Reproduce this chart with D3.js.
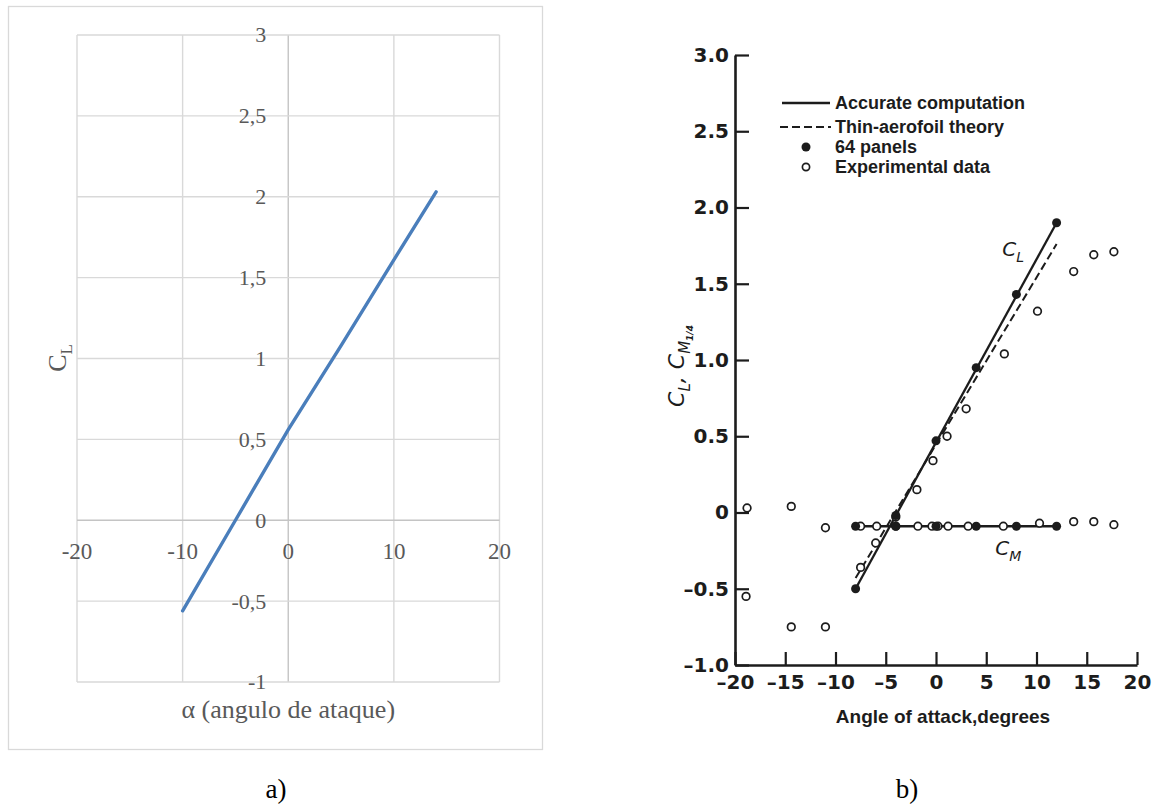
<!DOCTYPE html>
<html>
<head>
<meta charset="utf-8">
<script src="https://cdn.jsdelivr.net/npm/d3@7"></script>
<style>
  body { margin: 0; background: #fff; }
</style>
</head>
<body>
<div id="chart"></div>
<script>
// ---- a) CL vs alpha (excel style) ----
var alphaA = [-10, -5, 0, 5, 10, 14];
var clA = [-0.56, 0.0, 0.56, 1.08, 1.61, 2.03];
var xTicksA = [-20, -10, 0, 10, 20];
var xLabelsA = ['-20', '-10', '0', '10', '20'];
var yTicksA = [-1, -0.5, 0, 0.5, 1, 1.5, 2, 2.5, 3];
var yLabelsA = ['-1', '-0,5', '0', '0,5', '1', '1,5', '2', '2,5', '3'];

// ---- b) scanned figure ----
var accurateAlpha = [-8, 12];
var accurateCL = [-0.5, 1.9];
var thinAlpha = [-8, 12];
var thinCL = [-0.43, 1.76];
var cmAlpha = [-8, 12];
var cmValues = [-0.09, -0.09];
var panelAlpha = [-8, -4, 0, 4, 8, 12];
var panelCL = [-0.5, -0.02, 0.47, 0.95, 1.43, 1.9];
var panelCM = [-0.09, -0.09, -0.09, -0.09, -0.09, -0.09];
var expAlphaCL = [-18.9, -14.4, -11.0, -7.5, -6.0, -4.0, -1.9, -0.3, 1.1, 3.0, 6.8, 10.1, 13.7, 15.7, 17.7];
var expCL = [-0.55, -0.75, -0.75, -0.36, -0.20, -0.03, 0.15, 0.34, 0.50, 0.68, 1.04, 1.32, 1.58, 1.69, 1.71];
var expAlphaCM = [-18.8, -14.4, -11.0, -7.5, -5.9, -4.0, -1.8, -0.4, 0.2, 1.2, 3.2, 6.7, 10.3, 13.7, 15.7, 17.7];
var expCM = [0.03, 0.04, -0.10, -0.09, -0.09, -0.09, -0.09, -0.09, -0.09, -0.09, -0.09, -0.09, -0.07, -0.06, -0.06, -0.08];
var xTicksB = [-20, -15, -10, -5, 0, 5, 10, 15, 20];
var xLabelsB = ['–20', '–15', '–10', '–5', '0', '5', '10', '15', '20'];
var yTicksB = [-1, -0.5, 0, 0.5, 1, 1.5, 2, 2.5, 3];
var yLabelsB = ['–1.0', '–0.5', '0', '0.5', '1.0', '1.5', '2.0', '2.5', '3.0'];
var legendLabels = ['Accurate computation', 'Thin-aerofoil theory', '64 panels', 'Experimental data'];

var svg = d3.select('#chart').append('svg')
    .attr('width', 1157)
    .attr('height', 808);

// ================= a) =================
var gA = svg.append('g');
var serif = 'Liberation Serif, Times New Roman, serif';

gA.append('rect')
    .attr('x', 8.5).attr('y', 6.5)
    .attr('width', 534).attr('height', 743)
    .attr('fill', 'none')
    .attr('stroke', '#d9d9d9')
    .attr('stroke-width', 1.3);

var xA = d3.scaleLinear().domain([-20, 20]).range([77, 499.5]);
var yA = d3.scaleLinear().domain([-1, 3]).range([682, 35]);

// grid
gA.append('g').selectAll('line')
    .data(xTicksA)
    .enter().append('line')
    .attr('x1', function (d) { return xA(d); })
    .attr('x2', function (d) { return xA(d); })
    .attr('y1', yA(-1)).attr('y2', yA(3))
    .attr('stroke', function (d) { return d === 0 ? '#c4c4c4' : '#d9d9d9'; })
    .attr('stroke-width', 1.4);
gA.append('g').selectAll('line')
    .data(yTicksA)
    .enter().append('line')
    .attr('y1', function (d) { return yA(d); })
    .attr('y2', function (d) { return yA(d); })
    .attr('x1', xA(-20)).attr('x2', xA(20))
    .attr('stroke', function (d) { return d === 0 ? '#c4c4c4' : '#d9d9d9'; })
    .attr('stroke-width', 1.4);

// tick labels
gA.append('g').selectAll('text')
    .data(yTicksA)
    .enter().append('text')
    .attr('x', xA(0) - 22)
    .attr('y', function (d) { return yA(d); })
    .attr('dy', '0.34em')
    .attr('text-anchor', 'end')
    .style('font-family', serif)
    .style('font-size', '22px')
    .style('fill', '#595959')
    .text(function (d, i) { return yLabelsA[i]; });

gA.append('g').selectAll('text')
    .data(xTicksA)
    .enter().append('text')
    .attr('x', function (d) { return xA(d); })
    .attr('y', yA(0) + 39)
    .attr('text-anchor', 'middle')
    .style('font-family', serif)
    .style('font-size', '23px')
    .style('fill', '#595959')
    .text(function (d, i) { return xLabelsA[i]; });

// line
var lineA = d3.line()
    .x(function (d) { return xA(d[0]); })
    .y(function (d) { return yA(d[1]); });
gA.append('path')
    .attr('d', lineA(d3.zip(alphaA, clA)))
    .attr('fill', 'none')
    .attr('stroke', '#4a7ebb')
    .attr('stroke-width', 3.4)
    .attr('stroke-linecap', 'round');

// axis titles
gA.append('text')
    .attr('x', xA(0)).attr('y', 718)
    .attr('text-anchor', 'middle')
    .style('font-family', serif)
    .style('font-size', '26px')
    .style('fill', '#595959')
    .text('α (angulo de ataque)');

var clTitle = gA.append('text')
    .attr('transform', 'translate(66,358) rotate(-90)')
    .attr('text-anchor', 'middle')
    .style('font-family', serif)
    .style('font-size', '26px')
    .style('fill', '#595959');
clTitle.append('tspan').text('C');
clTitle.append('tspan').attr('dy', '6px').style('font-size', '17px').text('L');

svg.append('text')
    .attr('x', 276).attr('y', 798)
    .attr('text-anchor', 'middle')
    .style('font-family', serif)
    .style('font-size', '27px')
    .style('fill', '#000')
    .text('a)');

// ================= b) =================
var gB = svg.append('g');
var ink = '#1c1c1c';
var sans = 'DejaVu Sans, sans-serif';
var lsans = 'Liberation Sans, Arial, sans-serif';

var xB = d3.scaleLinear().domain([-20, 20]).range([735, 1137]);
var yB = d3.scaleLinear().domain([-1, 3]).range([665, 55]);

var yAxisB = d3.axisLeft(yB)
    .tickValues(yTicksB)
    .tickFormat(function (d, i) { return yLabelsB[i]; })
    .tickSize(-14)
    .tickSizeOuter(0)
    .tickPadding(6);
var gy = gB.append('g')
    .attr('transform', 'translate(' + xB(-20) + ',0)')
    .call(yAxisB);

var xAxisB = d3.axisBottom(xB)
    .tickValues(xTicksB)
    .tickFormat(function (d, i) { return xLabelsB[i]; })
    .tickSize(-13)
    .tickSizeOuter(0)
    .tickPadding(10);
var gx = gB.append('g')
    .attr('transform', 'translate(0,' + yB(-1) + ')')
    .call(xAxisB);

[gx, gy].forEach(function (g) {
    g.select('.domain').attr('stroke', ink).attr('stroke-width', 2.6);
    g.selectAll('.tick line').attr('stroke', ink).attr('stroke-width', 2.2);
    g.selectAll('.tick text')
        .style('font-family', sans)
        .style('font-weight', 'bold')
        .style('font-size', '20px')
        .style('fill', ink);
});

// lines
var lineB = d3.line()
    .x(function (d) { return xB(d[0]); })
    .y(function (d) { return yB(d[1]); });

gB.append('path')
    .attr('d', lineB(d3.zip(thinAlpha, thinCL)))
    .attr('fill', 'none')
    .attr('stroke', ink)
    .attr('stroke-width', 2)
    .attr('stroke-dasharray', '8,4');
gB.append('path')
    .attr('d', lineB(d3.zip(accurateAlpha, accurateCL)))
    .attr('fill', 'none')
    .attr('stroke', ink)
    .attr('stroke-width', 2.3);
gB.append('path')
    .attr('d', lineB(d3.zip(cmAlpha, cmValues)))
    .attr('fill', 'none')
    .attr('stroke', ink)
    .attr('stroke-width', 2.3);

// experimental open circles
function openCircles(ax, vals) {
    gB.append('g').selectAll('circle')
        .data(ax)
        .enter().append('circle')
        .attr('cx', function (d) { return xB(d); })
        .attr('cy', function (d, i) { return yB(vals[i]); })
        .attr('r', 3.8)
        .attr('fill', '#fff')
        .attr('stroke', ink)
        .attr('stroke-width', 1.7);
}
openCircles(expAlphaCL, expCL);
openCircles(expAlphaCM, expCM);

// 64 panels filled dots
function filledDots(ax, vals) {
    gB.append('g').selectAll('circle')
        .data(ax)
        .enter().append('circle')
        .attr('cx', function (d) { return xB(d); })
        .attr('cy', function (d, i) { return yB(vals[i]); })
        .attr('r', 4.5)
        .attr('fill', ink);
}
filledDots(panelAlpha, panelCL);
filledDots(panelAlpha, panelCM);

// curve labels
function subLabel(x, y, main, sub) {
    var t = gB.append('text')
        .attr('x', x).attr('y', y)
        .style('font-family', sans)
        .style('font-style', 'italic')
        .style('font-size', '20px')
        .style('fill', ink);
    t.append('tspan').text(main);
    t.append('tspan').attr('dy', '6px').style('font-size', '14px').text(sub);
}
subLabel(xB(6.6), yB(1.68), 'C', 'L');
subLabel(xB(5.9), yB(-0.28), 'C', 'M');

// y title (rotated)
var yTitle = gB.append('text')
    .attr('transform', 'translate(684,366) rotate(-90)')
    .attr('text-anchor', 'middle')
    .style('font-family', sans)
    .style('font-style', 'italic')
    .style('font-size', '22px')
    .style('fill', ink);
yTitle.append('tspan').text('C');
yTitle.append('tspan').attr('dy', '6px').style('font-size', '15px').text('L');
yTitle.append('tspan').attr('dy', '-6px').text(', C');
yTitle.append('tspan').attr('dy', '6px').style('font-size', '15px').text('M');
yTitle.append('tspan').attr('dy', '3px').style('font-size', '9px').style('font-weight', 'bold').text('1/4');

// x title
gB.append('text')
    .attr('x', 943).attr('y', 723)
    .attr('text-anchor', 'middle')
    .style('font-family', lsans)
    .style('font-weight', 'bold')
    .style('font-size', '19px')
    .style('fill', ink)
    .text('Angle of attack,degrees');

// legend
var legY = [103, 127, 147, 167];
var leg = gB.append('g');
leg.append('line')
    .attr('x1', 782).attr('x2', 830)
    .attr('y1', legY[0]).attr('y2', legY[0])
    .attr('stroke', ink).attr('stroke-width', 2.4);
leg.append('line')
    .attr('x1', 780).attr('x2', 831)
    .attr('y1', legY[1]).attr('y2', legY[1])
    .attr('stroke', ink).attr('stroke-width', 2.2)
    .attr('stroke-dasharray', '8,4');
leg.append('circle')
    .attr('cx', 806).attr('cy', legY[2]).attr('r', 4.5)
    .attr('fill', ink);
leg.append('circle')
    .attr('cx', 806).attr('cy', legY[3]).attr('r', 3.6)
    .attr('fill', '#fff').attr('stroke', ink).attr('stroke-width', 1.7);
leg.selectAll('text')
    .data(legendLabels)
    .enter().append('text')
    .attr('x', 835)
    .attr('y', function (d, i) { return legY[i]; })
    .attr('dy', '0.36em')
    .style('font-family', lsans)
    .style('font-weight', 'bold')
    .style('font-size', '18px')
    .style('fill', ink)
    .text(function (d) { return d; });

svg.append('text')
    .attr('x', 907).attr('y', 798)
    .attr('text-anchor', 'middle')
    .style('font-family', serif)
    .style('font-size', '27px')
    .style('fill', '#000')
    .text('b)');
</script>
</body>
</html>
